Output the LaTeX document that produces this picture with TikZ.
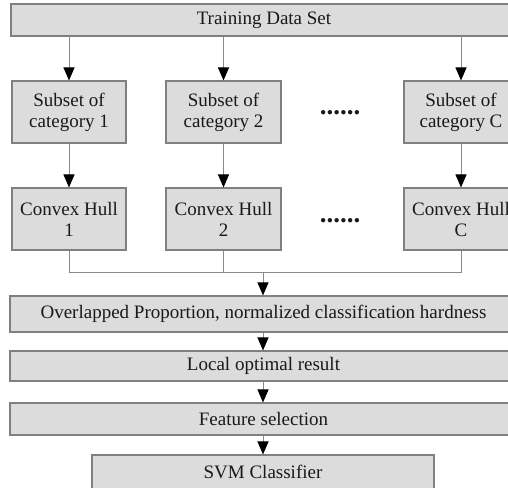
\documentclass[tikz,border=0pt]{standalone}
\usepackage{fontspec}
\setmainfont{Liberation Serif}
\usetikzlibrary{arrows.meta}
\definecolor{boxfill}{HTML}{DCDCDC}
\definecolor{boxline}{HTML}{808080}
\definecolor{conline}{HTML}{8A8A8A}
\tikzset{
  box/.style={draw=boxline, line width=1.1pt, fill=boxfill, inner sep=0pt, align=center,
    font=\fontsize{19}{21}\selectfont, text=black!90},
  conn/.style={draw=conline, line width=1pt},
  arr/.style={conn, -{Triangle[width=11pt,length=13pt,fill=black,color=black]}},
  dotsnode/.style={font=\fontsize{27}{27}\selectfont\bfseries, text=black!90, inner sep=0pt}
}
\begin{document}
\begin{tikzpicture}[x=1pt,y=-1pt]
\useasboundingbox (0,0) rectangle (508,487);
% top
\node[box, minimum width=506pt, minimum height=32pt] (top) at (264,20) {Training Data Set};
% subsets
\node[box, minimum width=114pt, minimum height=62pt] (s1) at (69,112) {Subset of\\category 1};
\node[box, minimum width=115pt, minimum height=62pt] (s2) at (223.5,112) {Subset of\\category 2};
\node[box, minimum width=114pt, minimum height=62pt] (s3) at (461,112) {Subset of\\category C};
\node[dotsnode, anchor=base] (d1) at (340,114) {......};
% hulls
\node[box, minimum width=114pt, minimum height=62pt] (h1) at (69,219) {Convex Hull\\1};
\node[box, minimum width=115pt, minimum height=62pt] (h2) at (223.5,219) {Convex Hull\\2};
\node[box, minimum width=114pt, minimum height=62pt] (h3) at (461,219) {Convex Hull\\C};
\node[dotsnode, anchor=base] (d2) at (340,222) {......};
% lower chain
\node[box, minimum width=507pt, minimum height=36pt] (ov) at (263.5,314) {Overlapped Proportion, normalized classification hardness};
\node[box, minimum width=507pt, minimum height=30pt] (lo) at (263.5,366) {Local optimal result};
\node[box, minimum width=507pt, minimum height=32pt] (fs) at (263.5,419) {Feature selection};
\node[box, minimum width=342pt, minimum height=34pt] (svm) at (263,472) {SVM Classifier};
\coordinate (j) at (263,272);
% connectors
\draw[arr] (s1.north |- top.south) -- (s1.north);
\draw[arr] (s2.north |- top.south) -- (s2.north);
\draw[arr] (s3.north |- top.south) -- (s3.north);
\draw[arr] (s1.south) -- (h1.north);
\draw[arr] (s2.south) -- (h2.north);
\draw[arr] (s3.south) -- (h3.north);
\draw[conn] (h1.south) -- (h1.south |- j) -- (h3.south |- j) -- (h3.south);
\draw[conn] (h2.south) -- (h2.south |- j);
\draw[arr] (j) -- (ov.north -| j);
\draw[arr] (ov.south -| j) -- (lo.north -| j);
\draw[arr] (lo.south -| j) -- (fs.north -| j);
\draw[arr] (fs.south -| j) -- (svm.north -| j);
\end{tikzpicture}
\end{document}
